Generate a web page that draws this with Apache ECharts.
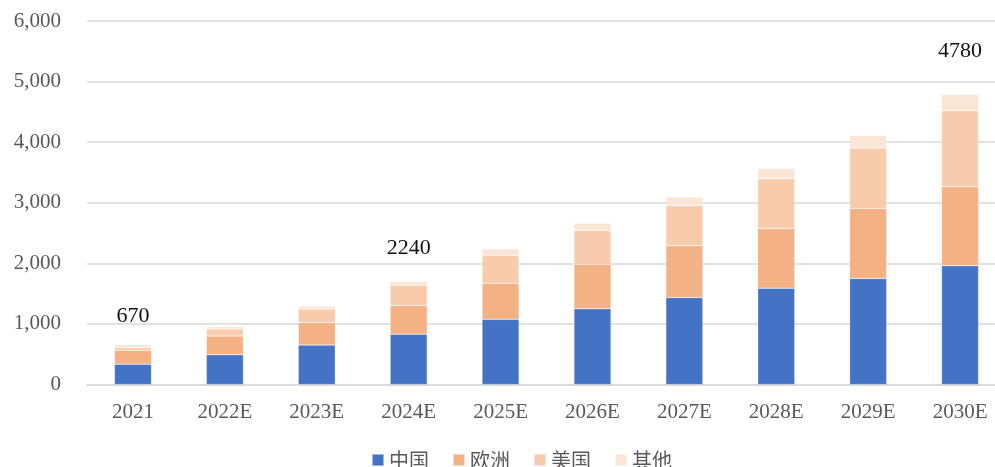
<!DOCTYPE html>
<html>
<head>
<meta charset="utf-8">
<script src="https://cdn.jsdelivr.net/npm/echarts@6/dist/echarts.min.js"></script>
<style>html,body{margin:0;padding:0;background:#fff;}#c{width:995px;height:467px;}</style>
</head>
<body>
<div id="c"></div>
<script>
const categories = ['2021', '2022E', '2023E', '2024E', '2025E', '2026E', '2027E', '2028E', '2029E', '2030E'];
const china  = [335, 490, 650, 830, 1075, 1250, 1435, 1590, 1750, 1960];
const europe = [230, 310, 375, 475, 595, 730, 855, 985, 1155, 1305];
const usa    = [42, 115, 220, 335, 465, 560, 665, 820, 1000, 1255];
const other  = [48, 40, 45, 60, 100, 120, 140, 170, 205, 265];
const totalLabels = ['670', '', '', '2240', '', '', '', '', '', '4780'];
const yTicks = [0, 1000, 2000, 3000, 4000, 5000, 6000];

const labelGap = {0: 18, 3: 22, 9: 32};
const serif = '"Liberation Serif", "DejaVu Serif", serif';
const cjk = '"Noto Sans CJK SC", sans-serif';

const otherData = other.map((v, i) => {
  if (!totalLabels[i]) return v;
  return {
    value: v,
    label: {
      show: true, position: 'top', distance: labelGap[i] || 20,
      formatter: () => totalLabels[i],
      color: '#111', fontFamily: serif, fontSize: 22
    }
  };
});

const mk = (name, data, color) => ({
  name, type: 'bar', stack: 'total', data, barWidth: 37,
  itemStyle: { color, borderColor: 'rgba(255,255,255,0.5)', borderWidth: 0.5 },
  emphasis: { disabled: true }
});

const chart = echarts.init(document.getElementById('c'), null, { renderer: 'canvas' });
chart.setOption({
  animation: false,
  grid: { left: 87, width: 919, top: 21, bottom: 82.5, containLabel: false, outerBoundsMode: 'none' },
  legend: {
    bottom: -8, left: 366,
    itemWidth: 12, itemHeight: 12, itemGap: 23,
    icon: 'rect',
    textStyle: { fontFamily: cjk, fontSize: 20, color: '#595959' },
    data: ['中国', '欧洲', '美国', '其他']
  },
  xAxis: {
    type: 'category', data: categories,
    axisLine: { show: true, lineStyle: { color: '#d9d9d9', width: 1.5 } },
    axisTick: { show: false },
    axisLabel: { fontFamily: serif, fontSize: 21, color: '#595959', margin: 17 }
  },
  yAxis: {
    type: 'value', min: yTicks[0], max: yTicks[yTicks.length - 1], interval: 1000,
    axisLine: { show: false }, axisTick: { show: false },
    splitLine: { lineStyle: { color: '#d9d9d9', width: 1.5 } },
    axisLabel: {
      fontFamily: serif, fontSize: 21, color: '#595959', margin: 26,
      formatter: v => v.toLocaleString('en-US')
    }
  },
  series: [
    mk('中国', china, '#4472C4'),
    mk('欧洲', europe, '#F4B183'),
    mk('美国', usa, '#F8CBAD'),
    mk('其他', otherData, '#FBE5D6')
  ]
});
</script>
</body>
</html>
